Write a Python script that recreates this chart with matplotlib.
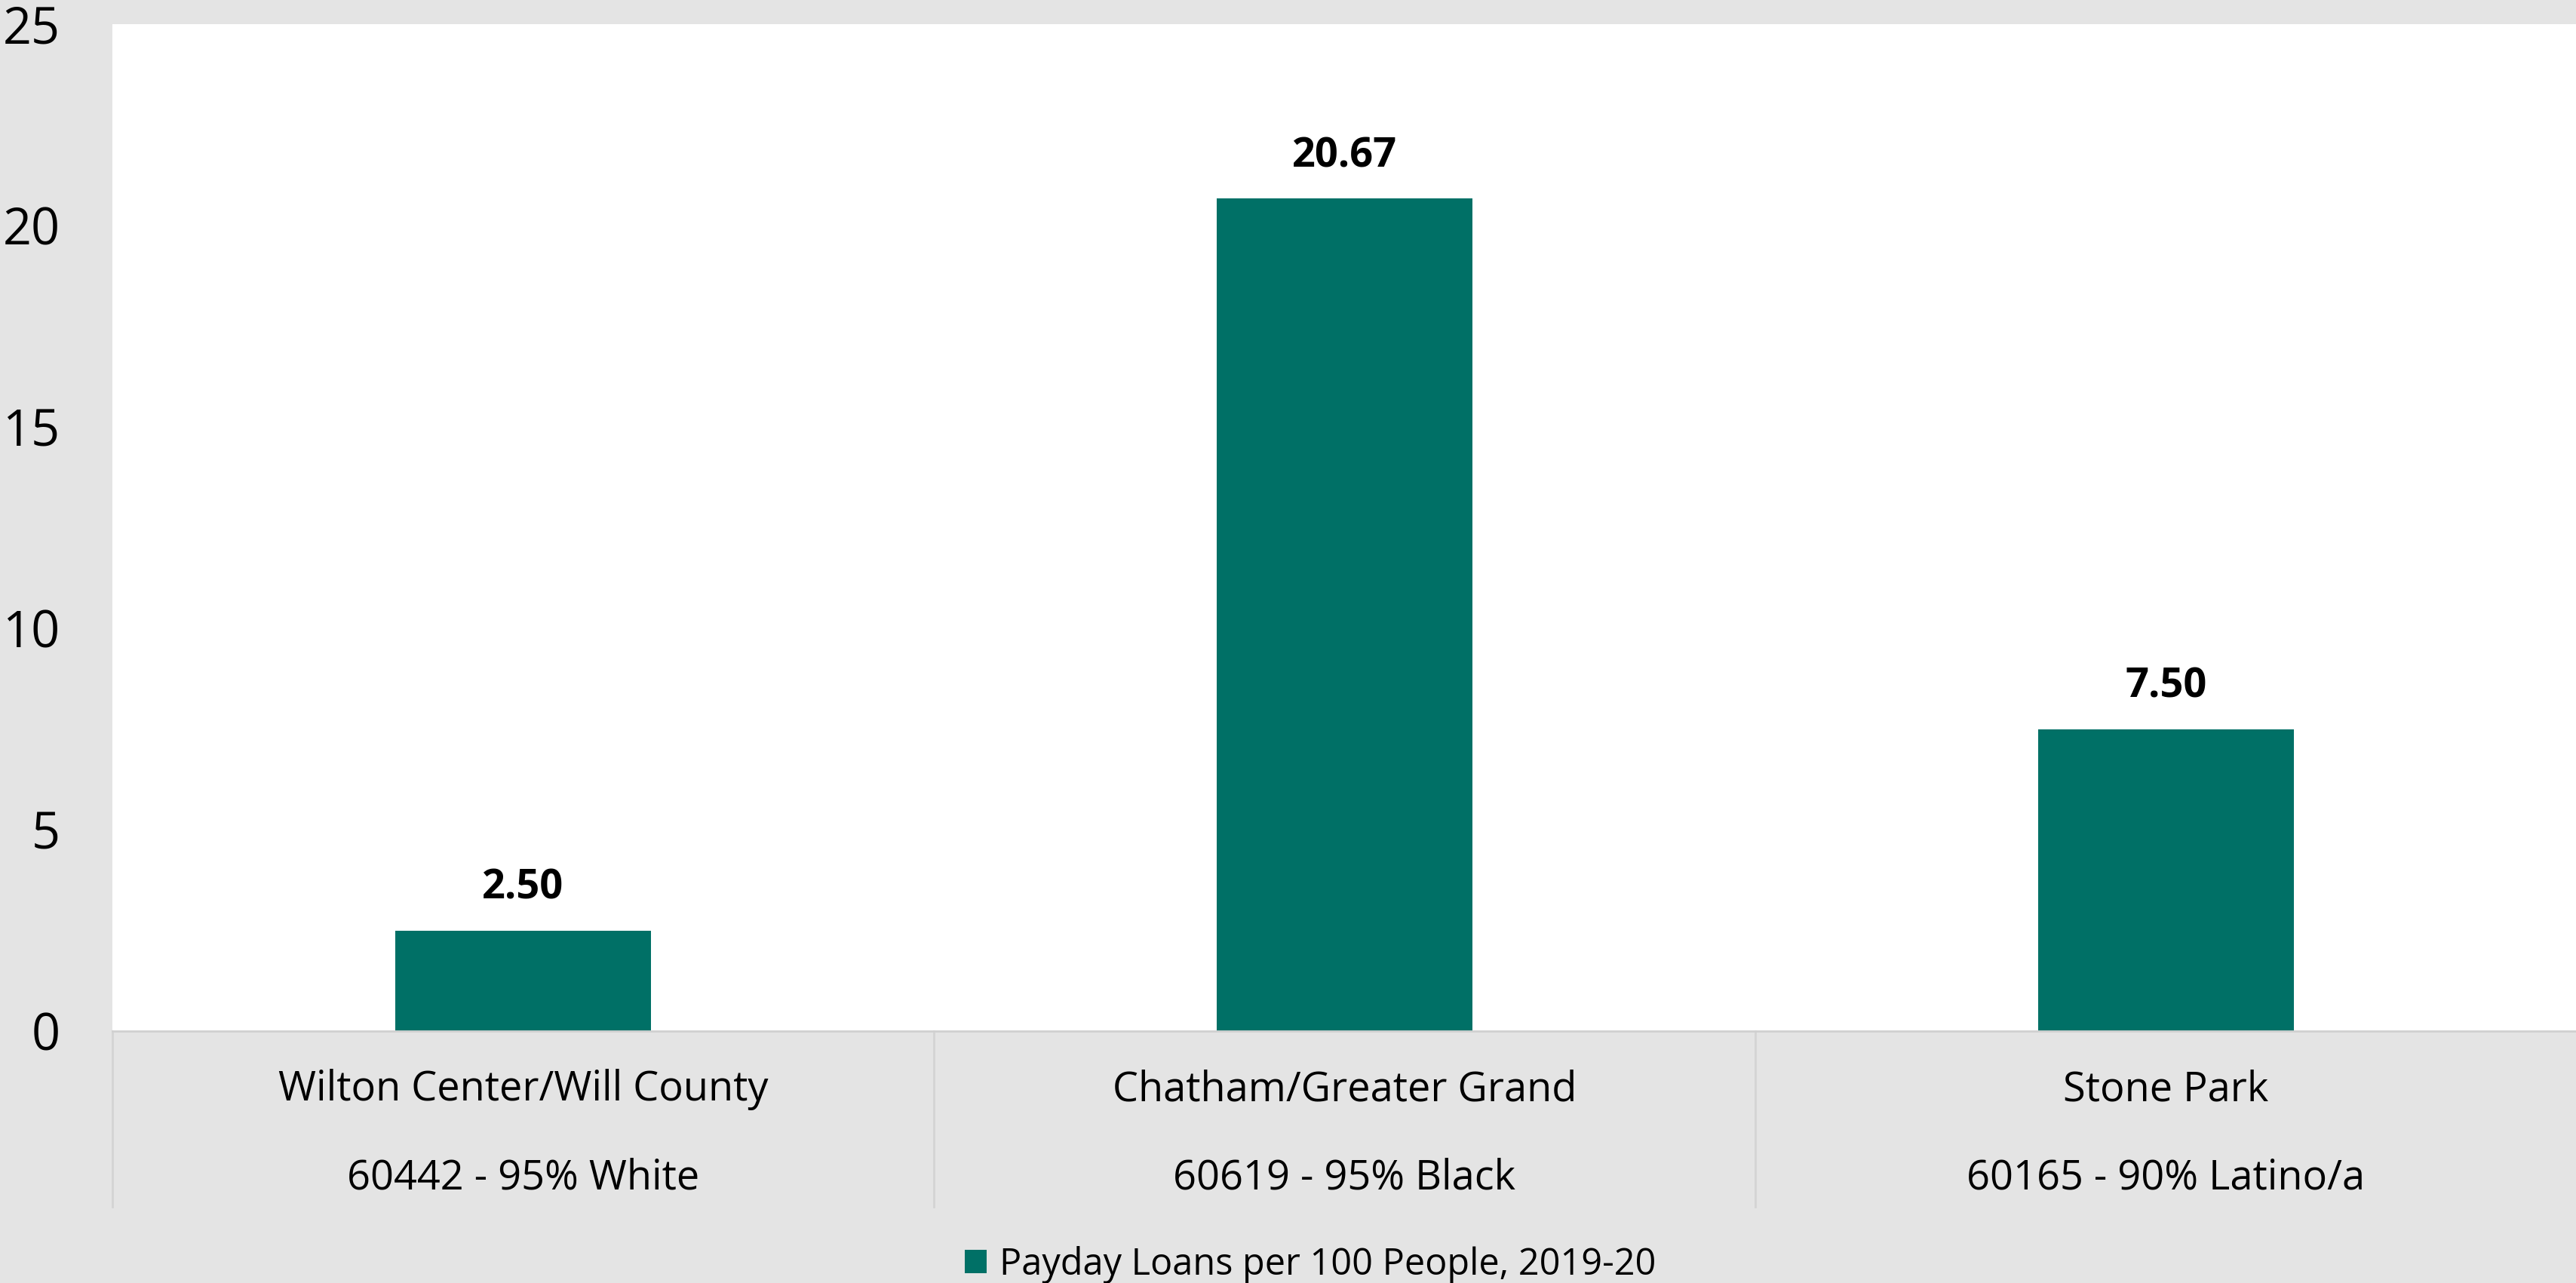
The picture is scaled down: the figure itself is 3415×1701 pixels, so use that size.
import matplotlib.pyplot as plt
import numpy as np

plt.rcParams['font.family'] = ['Open Sans', 'DejaVu Sans']

places = ['Wilton Center/Will County', 'Chatham/Greater Grand', 'Stone Park']
zips = ['60442 - 95% White', '60619 - 95% Black', '60165 - 90% Latino/a']
loans = [2.50, 20.67, 7.50]
series_name = 'Payday Loans per 100 People, 2019-20'
bar_color = '#007066'
bg = '#e4e4e4'

W, H = 3416, 1701
fig = plt.figure(figsize=(W / 100, H / 100), dpi=100, facecolor=bg)
left, right, top, bottom = 149, 3416, 32, 1367
ax = fig.add_axes([left / W, 1 - bottom / H, (right - left) / W, (bottom - top) / H])
ax.set_facecolor('white')

x = np.arange(len(places))
bars = ax.bar(x, loans, width=0.312, color=bar_color, label=series_name, zorder=2)

ax.set_xlim(-0.5, len(places) - 0.5)
ax.set_ylim(0, 25)
ax.set_yticks(np.arange(0, 26, 5))
ax.tick_params(axis='y', length=0, pad=50, labelsize=48, labelcolor='black')
ax.set_xticks([])
for s in ['top', 'right', 'left']:
    ax.spines[s].set_visible(False)
ax.spines['bottom'].set_color('#d0d0d0')
ax.spines['bottom'].set_linewidth(2)

# value labels
for b, v in zip(bars, loans):
    ax.annotate(f'{v:.2f}', (b.get_x() + b.get_width() / 2, v), xytext=(0, 40),
                textcoords='offset points', ha='center', va='center',
                fontsize=39, fontweight='bold', color='black')

# category labels below axis
tr = ax.get_xaxis_transform()
axh = bottom - top
for i, (p, z) in enumerate(zip(places, zips)):
    ax.text(i, -78 / axh, p, transform=tr, ha='center', va='center', fontsize=39, clip_on=False)
    ax.text(i, -195 / axh, z, transform=tr, ha='center', va='center', fontsize=39, clip_on=False)

# separators between categories
for xs in np.arange(len(places)) - 0.5:
    ax.plot([xs, xs], [0, -233 / axh], transform=tr, color='#d4d4d4', lw=2, clip_on=False)

fig.legend(handles=[bars], labels=[series_name], loc='center',
           bbox_to_anchor=(1737 / W, 1 - 1677 / H), frameon=False, fontsize=35,
           handlelength=0.6, handleheight=0.6, handletextpad=0.35)

fig.savefig('out.png', dpi=100, facecolor=bg)
